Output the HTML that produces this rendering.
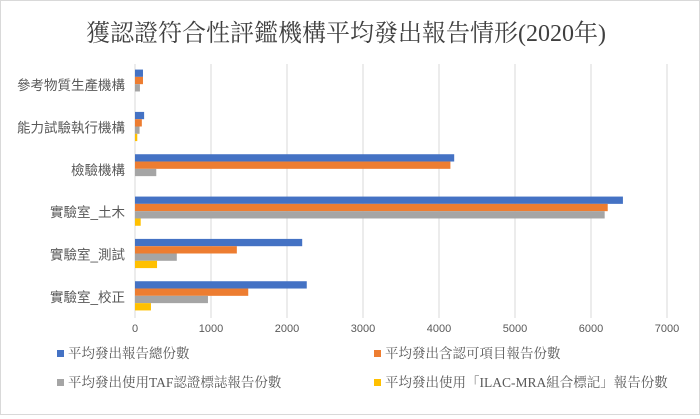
<!DOCTYPE html>
<html><head><meta charset="utf-8">
<style>
body{margin:0;width:700px;height:415px;overflow:hidden;background:#fff;font-family:"Liberation Sans","Noto Sans CJK TC",sans-serif;}
#wrap{position:absolute;left:0;top:0;width:698px;height:413px;border:1px solid #d9d9d9;}
</style></head>
<body>
<div id="wrap">
<svg id="chart" width="698" height="413" xmlns="http://www.w3.org/2000/svg"></svg>
</div>
<script>
const categories=["參考物質生產機構","能力試驗執行機構","檢驗機構","實驗室_土木","實驗室_測試","實驗室_校正"];
const seriesNames=["平均發出報告總份數","平均發出含認可項目報告份數","平均發出使用TAF認證標誌報告份數","平均發出使用「ILAC-MRA組合標記」報告份數"];
const totalReports=[105,120,4200,6420,2200,2260];
const accreditedReports=[105,90,4150,6220,1340,1490];
const tafReports=[65,60,280,6180,550,960];
const ilacReports=[0,30,0,75,290,210];
const ticks=[0,1000,2000,3000,4000,5000,6000,7000];
const series=[totalReports,accreditedReports,tafReports,ilacReports];
const colors=["#4472c4","#ed7d31","#a5a5a5","#ffc000"];
const svg=document.getElementById('chart');
const NS="http://www.w3.org/2000/svg";
const x0=134,x1=666,yTop=63,yBot=317;
const xs=v=>x0+(v/7000)*(x1-x0);
const band=(yBot-yTop)/categories.length;
function mk(t,a,txt){const e=document.createElementNS(NS,t);for(const k in a)e.setAttribute(k,a[k]);if(txt!==undefined)e.textContent=txt;svg.appendChild(e);return e;}
const title=mk('text',{x:345,y:40,'text-anchor':'middle','font-size':24,fill:'#404040','font-family':'"Liberation Serif","Noto Serif CJK SC",serif'},'獲認證符合性評鑑機構平均發出報告情形(2020年)');


ticks.forEach(t=>{
 const g=mk('line',{x1:xs(t),x2:xs(t),y1:yTop,y2:yBot,stroke:'#d9d9d9','stroke-width':1});
 
 
 const l=mk('text',{x:xs(t),y:331,'text-anchor':'middle','font-size':11,fill:'#595959'},t);
 
 
});
categories.forEach((c,i)=>{
 const yc=yTop+band*i+band/2;
 const l=mk('text',{x:124,y:yc+5,'text-anchor':'end','font-size':13.5,fill:'#595959'},c);
 
 
 series.forEach((s,j)=>{
  const bh=7.3;
  const y=yc-bh*2+bh*j-1;
  const r=mk('rect',{x:x0,y:y,width:Math.max(0,xs(s[i])-x0),height:bh,fill:colors[j]});
  
  
 });
});
const lp=[[38,357],[355,357],[38,386],[355,386]];
seriesNames.forEach((n,j)=>{
 const r=mk('rect',{x:lp[j][0]+18,y:lp[j][1]-8,width:7,height:7,fill:colors[j]});
 
 
 const t=mk('text',{x:lp[j][0]+29,y:lp[j][1],'font-size':13.5,fill:'#595959','font-family':'"Liberation Serif","Noto Serif CJK SC",serif'},n);
 
 
});
</script>
</body></html>
